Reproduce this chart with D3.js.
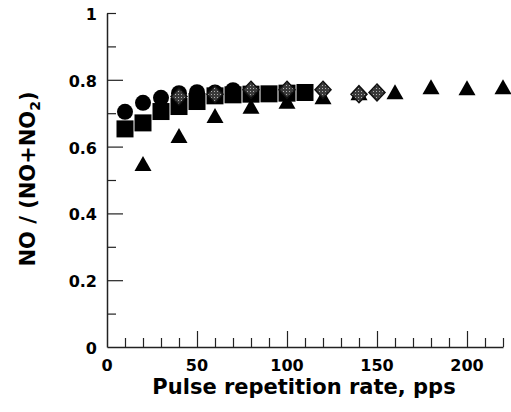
<!DOCTYPE html>
<html>
<head>
<meta charset="utf-8">
<script src="https://cdn.jsdelivr.net/npm/d3@7"></script>
<style>
  html, body { margin: 0; padding: 0; background: #fff; }
  svg { display: block; }
  text { font-family: "DejaVu Sans", Verdana, sans-serif; font-weight: bold; fill: #000; }
</style>
</head>
<body>
<svg id="chart" width="511" height="412"></svg>
<script>
// ---- Data ----
const circleX = [10, 20, 30, 40, 50, 60, 70];
const circleY = [0.704, 0.731, 0.746, 0.760, 0.763, 0.762, 0.769];

const squareX = [10, 20, 30, 40, 50, 60, 70, 80, 90, 100, 110];
const squareY = [0.653, 0.671, 0.705, 0.720, 0.735, 0.752, 0.755, 0.757, 0.758, 0.760, 0.762];

const triangleX = [20, 40, 60, 80, 100, 120, 140, 160, 180, 200, 220];
const triangleY = [0.542, 0.626, 0.686, 0.713, 0.728, 0.742, 0.754, 0.757, 0.772, 0.769, 0.772];

const diamondX = [40, 60, 80, 100, 120, 140, 150];
const diamondY = [0.750, 0.757, 0.770, 0.770, 0.770, 0.757, 0.762];

const xTickLabels = [0, 50, 100, 150, 200];
const yTickLabels = [0, 0.2, 0.4, 0.6, 0.8, 1];

const xLabel = "Pulse repetition rate, pps";

// ---- Layout ----
const svg = d3.select("#chart");
const x = d3.scaleLinear().domain([0, 220]).range([107, 503]);
const y = d3.scaleLinear().domain([0, 1]).range([347, 13]);

const axisColor = "#222";

// texture pattern for the grey diamonds
const defs = svg.append("defs");
const pat = defs.append("pattern")
  .attr("id", "speckle")
  .attr("patternUnits", "userSpaceOnUse")
  .attr("width", 3).attr("height", 3);
pat.append("rect").attr("width", 3).attr("height", 3).attr("fill", "#3a3a3a");
pat.append("rect").attr("x", 1).attr("y", 1).attr("width", 1).attr("height", 1).attr("fill", "#b0b0b0");

// ---- Axes ----
const xMinor = d3.range(0, 221, 10);
const xAxis = d3.axisBottom(x)
  .tickValues(xMinor)
  .tickSize(0)
  .tickFormat("");
const gx = svg.append("g").attr("transform", `translate(0,${y(0)})`).call(xAxis);
gx.select(".domain").attr("stroke", axisColor).attr("stroke-width", 1.5);
gx.selectAll(".tick line")
  .attr("stroke", axisColor).attr("stroke-width", 1.2)
  .attr("y2", d => (d === 0 ? 0 : (d % 50 === 0 ? -16 : -9)));

const yMinor = d3.range(0, 11).map(i => i / 10);
const yAxis = d3.axisLeft(y)
  .tickValues(yMinor)
  .tickSize(0)
  .tickFormat("");
const gy = svg.append("g").attr("transform", `translate(${x(0)},0)`).call(yAxis);
gy.select(".domain").attr("stroke", axisColor).attr("stroke-width", 1.5);
gy.selectAll(".tick line")
  .attr("stroke", axisColor).attr("stroke-width", 1.2)
  .attr("x2", (d, i) => (i === 0 ? 0 : (i === 10 ? 9 : (i % 2 === 0 ? 16 : 9))));

// tick labels
svg.append("g").selectAll("text").data(xTickLabels).join("text")
  .attr("x", d => x(d))
  .attr("y", 371)
  .attr("text-anchor", "middle")
  .attr("font-size", 16)
  .text(d => d);

svg.append("g").selectAll("text").data(yTickLabels).join("text")
  .attr("x", 97)
  .attr("y", d => y(d) + 7)
  .attr("text-anchor", "end")
  .attr("font-size", 16)
  .text(d => d3.format("")(d));

// axis titles
svg.append("text")
  .attr("x", 304)
  .attr("y", 394)
  .attr("text-anchor", "middle")
  .attr("font-size", 21)
  .text(xLabel);

const yl = svg.append("text")
  .attr("transform", "translate(35,179) rotate(-90)")
  .attr("text-anchor", "middle")
  .attr("font-size", 21);
yl.append("tspan").text("NO / (NO+NO");
yl.append("tspan").attr("font-size", 14).attr("dy", 5).text("2");
yl.append("tspan").attr("dy", -5).text(")");

// ---- Marks ----
const zip = (xs, ys) => xs.map((v, i) => ({ x: v, y: ys[i] }));

// squares
svg.append("g").selectAll("rect").data(zip(squareX, squareY)).join("rect")
  .attr("x", d => x(d.x) - 8.5)
  .attr("y", d => y(d.y) - 8.5)
  .attr("width", 17)
  .attr("height", 17)
  .attr("fill", "#000");

// circles
svg.append("g").selectAll("circle").data(zip(circleX, circleY)).join("circle")
  .attr("cx", d => x(d.x))
  .attr("cy", d => y(d.y))
  .attr("r", 8)
  .attr("fill", "#000");

// triangles
const triPath = (cx, cy) => {
  const w = 8.5, h = 15;
  return `M${cx},${cy - h * 2 / 3}L${cx + w},${cy + h / 3}L${cx - w},${cy + h / 3}Z`;
};
svg.append("g").selectAll("path").data(zip(triangleX, triangleY)).join("path")
  .attr("d", d => triPath(x(d.x), y(d.y)))
  .attr("fill", "#000");

// diamonds (grey textured)
const diaPath = (cx, cy) => {
  const w = 8, h = 8.5;
  return `M${cx},${cy - h}L${cx + w},${cy}L${cx},${cy + h}L${cx - w},${cy}Z`;
};
svg.append("g").selectAll("path").data(zip(diamondX, diamondY)).join("path")
  .attr("d", d => diaPath(x(d.x), y(d.y)))
  .attr("fill", "url(#speckle)")
  .attr("stroke", "#111")
  .attr("stroke-width", 1.5);
</script>
</body>
</html>
